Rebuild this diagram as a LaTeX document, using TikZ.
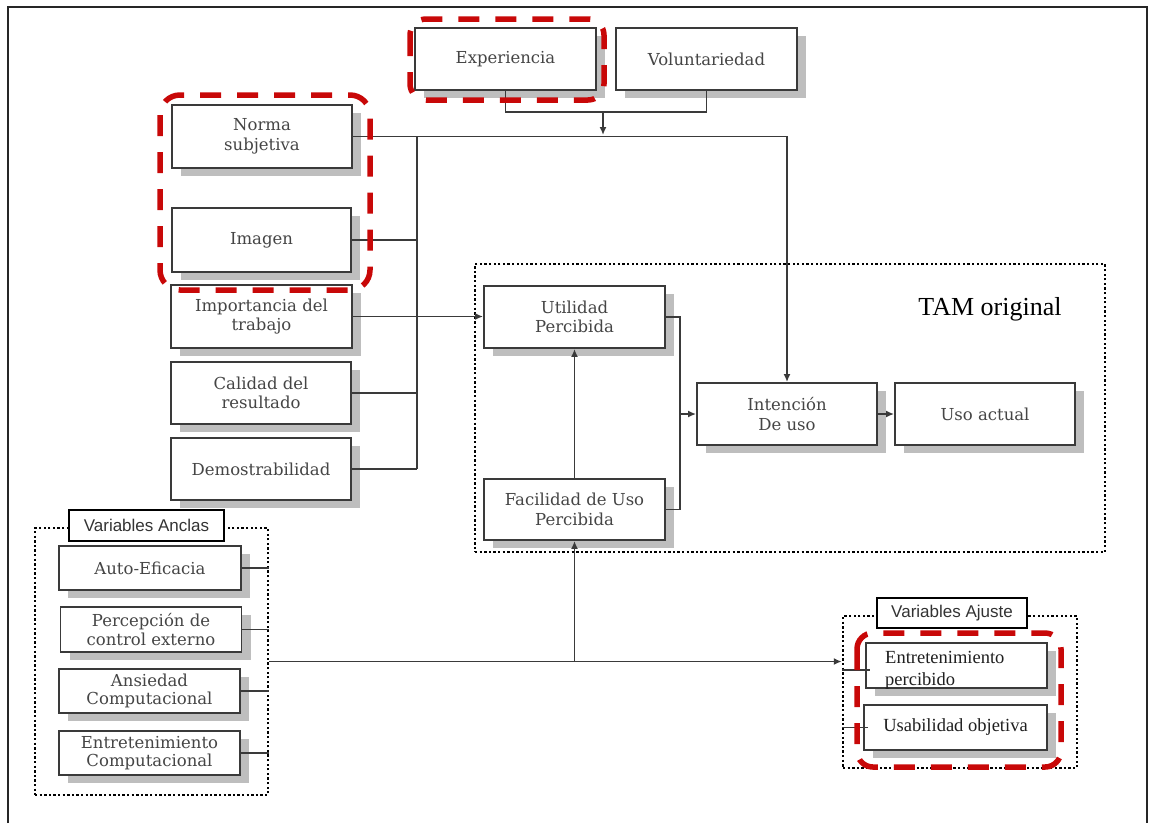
\documentclass[tikz,border=0pt]{standalone}
\usepackage{fontspec}
\setmainfont{DejaVu Serif}
\newfontfamily\timesfont{Liberation Serif}
\newfontfamily\arialfont{Liberation Sans}
\usetikzlibrary{shadows,arrows.meta}

\definecolor{boxline}{HTML}{3A3A3A}
\definecolor{boxtext}{HTML}{454545}
\definecolor{shade}{HTML}{BEBEBE}
\definecolor{hilite}{RGB}{200,8,8}

\tikzset{
  box/.style={draw=boxline, line width=1.9pt, fill=white, text=boxtext, align=center,
    font=\fontsize{16.5}{19.5}\selectfont, inner sep=2pt,
    drop shadow={shadow xshift=9pt, shadow yshift=-8pt, fill=shade, opacity=1}},
  lowbox/.style={box, font=\fontsize{16.5}{18.5}\selectfont},
  plainbox/.style={box, text=black!88, font=\timesfont\fontsize{18.5}{22}\selectfont},
  group/.style={draw=black, line width=2.5pt, dash pattern=on 2.3pt off 2.3pt},
  tag/.style={draw=black, line width=2.3pt, fill=white, inner sep=0pt, text=black!80,
    font=\arialfont\fontsize{17}{20}\selectfont},
  hl/.style={draw=hilite, line width=5.5pt, dash pattern=on 21pt off 16pt, rounded corners=16pt},
  wire/.style={draw=boxline, line width=1.8pt},
  arr/.style={wire, -{Latex[length=8pt,width=7pt]}},
}

\begin{document}
\begin{tikzpicture}[x=1pt,y=-1pt]
\useasboundingbox (0,0) rectangle (1150,823);

% page frame
\draw[line width=1.8pt, black!85] (8,823) -- (8,7) -- (1147,7) -- (1147,823);

% dotted groups
\node[group, minimum width=630pt, minimum height=288pt] (tam) at (790,408) {};
\node[group, minimum width=233pt, minimum height=267pt] (anclas) at (151.5,661.5) {};
\node[group, minimum width=234pt, minimum height=152pt] (ajuste) at (960,692) {};
\node[font=\timesfont\fontsize{26}{30}\selectfont] (tamlbl) at (990,309) {TAM original};

% moderators
\node[box, minimum width=181pt, minimum height=62pt] (exp) at (505.5,59) {Experiencia};
\node[box, minimum width=181pt, minimum height=62pt] (vol) at (706.5,59) {Voluntariedad};

% social and cognitive determinants
\node[box, minimum width=180pt, minimum height=63pt] (norma) at (262,136.5) {Norma\\subjetiva};
\node[box, minimum width=179pt, minimum height=64pt] (imagen) at (261.5,240) {Imagen};
\node[box, minimum width=181pt, minimum height=63pt] (importancia) at (261.5,316.5) {Importancia del\\trabajo};
\node[box, minimum width=180pt, minimum height=62pt] (calidad) at (261,393) {Calidad del\\resultado};
\node[box, minimum width=180pt, minimum height=62pt] (demo) at (261,469) {Demostrabilidad};

% original TAM
\node[box, minimum width=181pt, minimum height=62pt] (util) at (574.5,317) {Utilidad\\Percibida};
\node[box, minimum width=181pt, minimum height=61pt] (facil) at (574.5,509.5) {Facilidad de Uso\\Percibida};
\node[box, minimum width=180pt, minimum height=62pt] (intencion) at (787,414) {Intención\\De uso};
\node[box, minimum width=180pt, minimum height=62pt] (uso) at (985,414) {Uso actual};

% anchor variables
\node[lowbox, minimum width=182pt, minimum height=44pt] (auto) at (150,568) {Auto-Eficacia};
\node[lowbox, minimum width=181pt, minimum height=45pt] (percep) at (151,629.5) {Percepción de\\control externo};
\node[lowbox, minimum width=181pt, minimum height=44pt] (ansiedad) at (149.5,691) {Ansiedad\\Computacional};
\node[lowbox, minimum width=181pt, minimum height=44pt] (entcomp) at (149.5,753) {Entretenimiento\\Computacional};

% adjustment variables
\node[plainbox, minimum width=181pt, minimum height=45pt] (entperc) at (956.5,665.5) {};
\node[anchor=base west, text=black!88, font=\timesfont\fontsize{18.5}{22}\selectfont,
      align=left, inner sep=0pt] (entperctxt) at (885,685) {Entretenimiento\\percibido};
\node[plainbox, minimum width=183pt, minimum height=45pt] (usab) at (955.5,727.5) {Usabilidad objetiva};

% group tags
\node[tag, minimum width=155pt, minimum height=31pt] (tagA) at (146.5,525.5) {Variables Anclas};
\node[tag, minimum width=150pt, minimum height=30pt] (tagB) at (952,613) {Variables Ajuste};

% moderator junction
\coordinate (mj) at (603,112);
\coordinate (mt) at (603,135);
\draw[wire] (exp.south) |- (mj) -| (vol.south);
\draw[arr] (mj) -- (mt);

% determinants bus
\coordinate (busTop) at (417,136.5);
\coordinate (busBot) at (417,469);
\draw[arr] (norma.east) -| (intencion.north);
\draw[wire] (busTop) -- (busBot);
\draw[wire] (imagen.east) -- (imagen.east -| busTop);
\draw[wire] (calidad.east) -- (calidad.east -| busTop);
\draw[wire] (demo.east) -- (busBot);
\draw[arr] (importancia.east) -- (importancia.east -| util.west);

% TAM core
\coordinate (tj) at (680,414);
\draw[wire] (util.east) -| (tj) |- (facil.east);
\draw[arr] (tj) -- (intencion.west);
\draw[arr] (intencion.east) -- (uso.west);
\draw[arr] (facil.north) -- (util.south);

% external variables to TAM
\draw[arr] (anclas.east) -- (anclas.east -| ajuste.west);
\draw[arr] (anclas.east -| facil.south) -- (facil.south);
\foreach \n in {auto,percep,ansiedad,entcomp}
  \draw[wire] (\n.east) -- (\n.east -| anclas.east);
\draw[wire] (ajuste.west |- 0,670) -- (870,670);
\draw[wire] (usab.west -| ajuste.west) -- ([xshift=5pt]usab.west);

% highlighted constructs
\draw[hl] (410,19) rectangle (604,100);
\draw[hl, rounded corners=20pt] (160,95) rectangle (370,290);
\draw[hl] (857,633) rectangle (1061,767);
\end{tikzpicture}
\end{document}
